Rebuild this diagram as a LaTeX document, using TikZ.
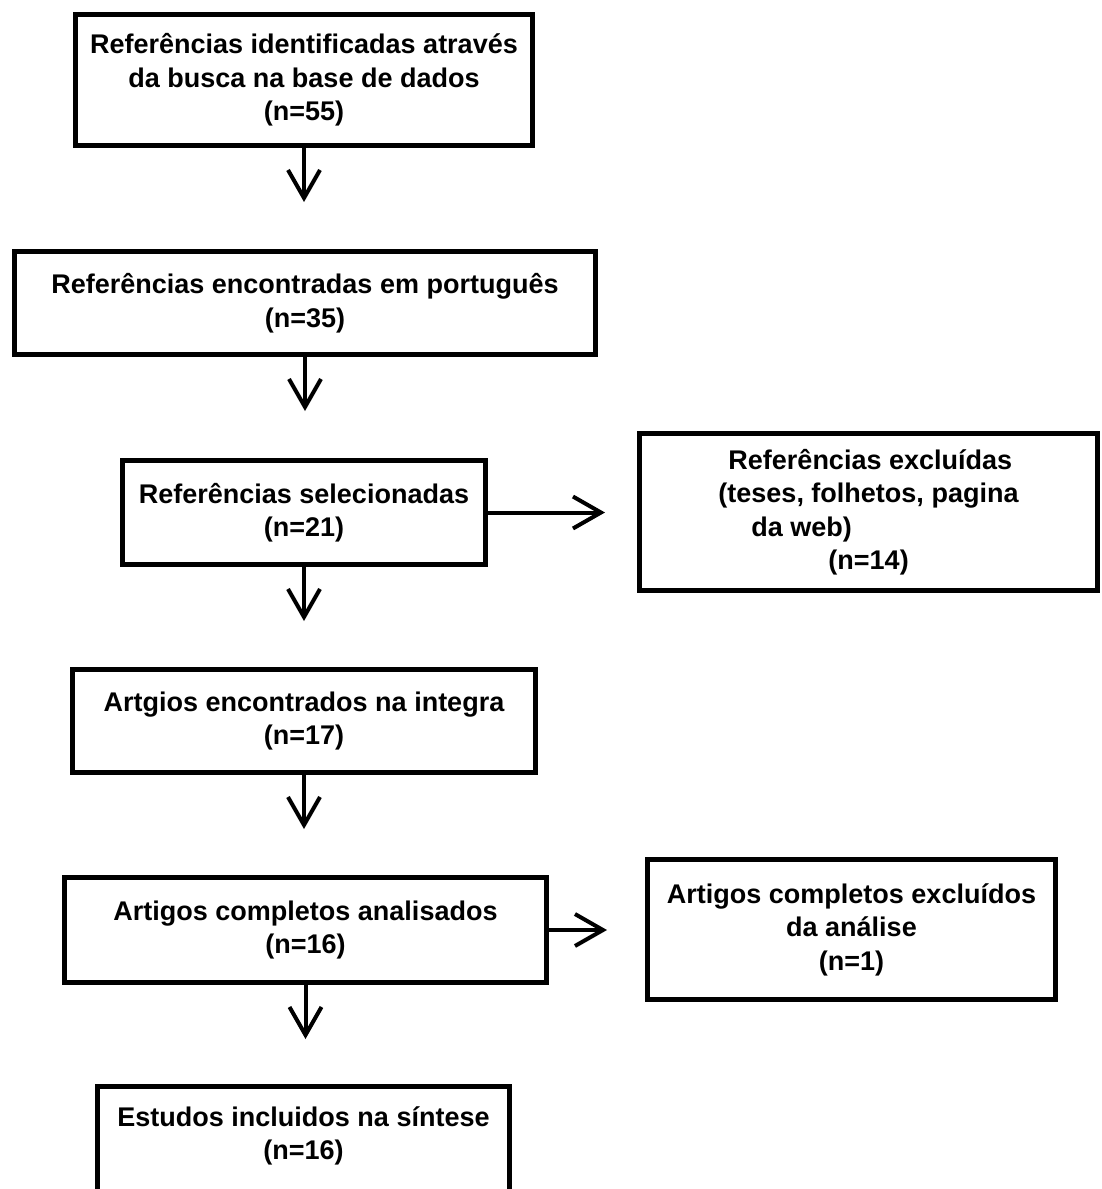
\documentclass[tikz,border=0pt]{standalone}
\usepackage{fontspec}
\setmainfont{Liberation Sans}
\usetikzlibrary{positioning,arrows.meta}

\begin{document}
\begin{tikzpicture}[x=0.5pt,y=-0.5pt]
      \tikzset{stage/.style={draw, line width=2.5pt, align=center, inner sep=0pt, font=\bfseries\fontsize{13.5}{16.75}\selectfont}}
      \tikzset{flow/.style={-{Straight Barb[length=14pt,width=16pt]}, line width=2pt}}
      \useasboundingbox (0,0) rectangle (1102,1189);
%% Boxes
      \node[stage, minimum width=228.5pt, minimum height=65.5pt] (b1) at (304,80) {Referências identificadas através\\da busca na base de dados\\(n=55)};
      \node[stage, minimum width=290.5pt, minimum height=51.5pt] (b2) at (305,303) {Referências encontradas em português\\(n=35)};
      \node[stage, minimum width=181.5pt, minimum height=52pt] (b3) at (304,512.5) {Referências selecionadas\\(n=21)};
      \node[stage, align=left, minimum width=229pt, minimum height=78.5pt] (x3) at (868.5,512) {\hspace*{5pt}Referências excluídas\\(teses, folhetos, pagina\\\hspace*{16.5pt}da web)\\\hspace*{55pt}(n=14)};
      \node[stage, minimum width=231.5pt, minimum height=51.5pt] (b4) at (304,721) {Artgios encontrados na integra\\(n=17)};
      \node[stage, minimum width=241pt, minimum height=52.5pt] (b5) at (305.5,930) {Artigos completos analisados\\(n=16)};
      \node[stage, minimum width=204pt, minimum height=70pt] (x5) at (851.5,929.5) {Artigos completos excluídos\\da análise\\(n=1)};
      \node[stage, minimum width=206pt, minimum height=55.5pt, text depth=9pt] (b6) at (303.5,1142) {Estudos incluidos na síntese\\(n=16)};
%Arrows
      \coordinate[below=27pt of b1] (d1);
      \coordinate[below=27pt of b2] (d2);
      \coordinate[below=27pt of b3] (d3);
      \coordinate[below=27pt of b4] (d4);
      \coordinate[below=27pt of b5] (d5);
      \coordinate[right=58.5pt of b3] (r3);
      \coordinate[right=29pt of b5] (r5);
      \path[flow] (b1) edge (d1);
      \path[flow] (b2) edge (d2);
      \path[flow] (b3) edge (d3);
      \path[flow] (b4) edge (d4);
      \path[flow] (b5) edge (d5);
      \path[flow] (b3) edge (r3);
      \path[flow] (b5) edge (r5);
\end{tikzpicture}
\end{document}
